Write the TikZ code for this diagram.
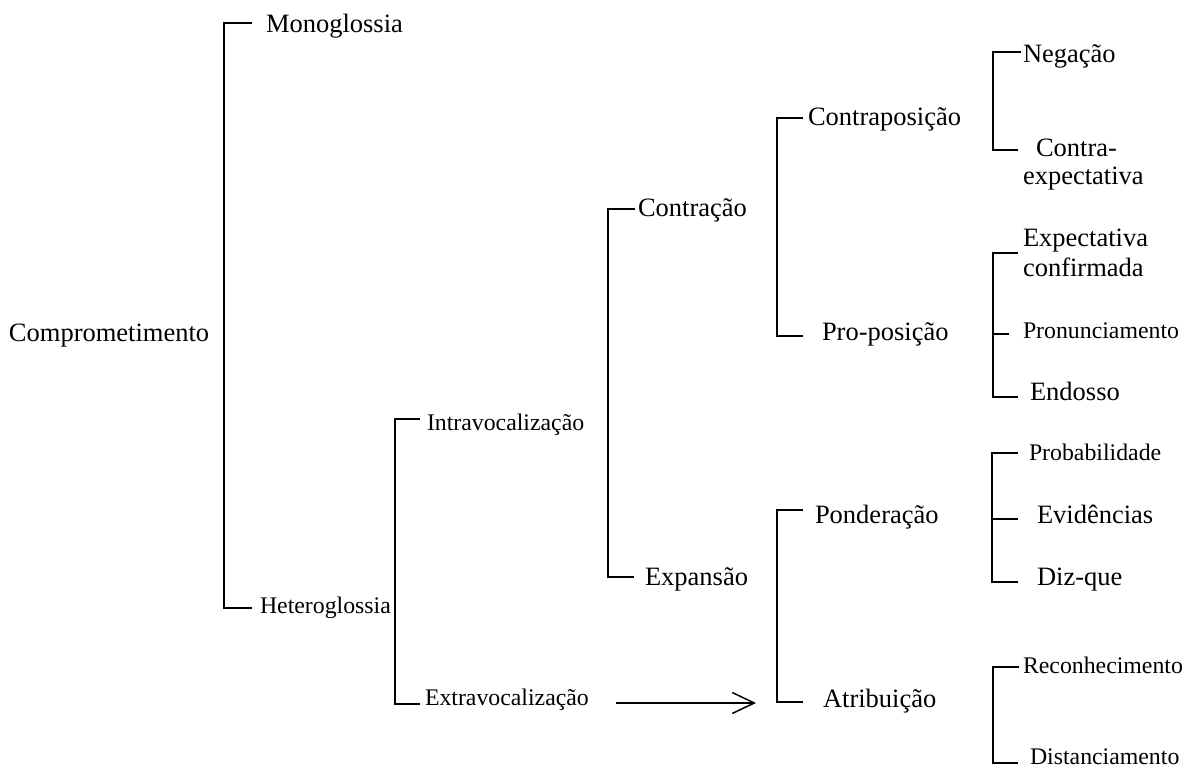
\documentclass[tikz,border=0pt]{standalone}
\usepackage{fontspec}
\setmainfont{Liberation Serif}
\usetikzlibrary{arrows.meta}
\tikzset{
  lbl/.style={inner sep=0pt, outer sep=0pt, anchor=base west},
  big/.style={lbl, font=\fontsize{26.5}{28}\selectfont},
  small/.style={lbl, font=\fontsize{23.8}{28}\selectfont},
  brk/.style={line width=1.8pt, line cap=butt, line join=miter},
  arr/.style={line width=1.5pt, -{Straight Barb[length=22pt,width=21pt,line width=1.5pt]}}
}
\begin{document}
\begin{tikzpicture}[x=1pt,y=-1pt]
\useasboundingbox (0,0) rectangle (1185,767);

% labels
\node[big]   (comp)     at (9,341)    {Comprometimento};
\node[big]   (mono)     at (266,33)   {Monoglossia};
\node[small] (hetero)   at (260,613)  {Heteroglossia};
\node[small] (intra)    at (427,430)  {Intravocalização};
\node[small] (extra)    at (425,705)  {Extravocalização};
\node[big]   (contr)    at (638,217)  {Contração};
\node[big]   (expa)     at (645,585)  {Expansão};
\node[big]   (contrap)  at (808,126)  {Contraposição};
\node[big]   (propos)   at (822,340)  {Pro-posição};
\node[big]   (ponder)   at (815,523)  {Ponderação};
\node[big]   (atrib)    at (823,707)  {Atribuição};
\node[big]   (neg)      at (1023,63)  {Negação};
\node[big]   (cexp)     at (1023,157) {\baselineskip=28pt\vtop{\hbox{\hspace*{13pt}Contra-}\hbox{expectativa}}};
\node[big]   (expc)     at (1023,247) {\baselineskip=30pt\vtop{\hbox{Expectativa}\hbox{confirmada}}};
\node[small] (pron)     at (1023,338) {Pronunciamento};
\node[big]   (endo)     at (1030,400) {Endosso};
\node[small] (prob)     at (1029,460) {Probabilidade};
\node[big]   (evid)     at (1037,523) {Evidências};
\node[big]   (diz)      at (1037,585) {Diz-que};
\node[small] (recon)    at (1023,673) {Reconhecimento};
\node[small] (dist)     at (1030,764) {Distanciamento};

% tick ends
\coordinate (mono-t)    at (252,23);
\coordinate (hetero-t)  at (252,608);
\coordinate (intra-t)   at (420,419);
\coordinate (extra-t)   at (420,704);
\coordinate (contr-t)   at (635,209);
\coordinate (expa-t)    at (634,577);
\coordinate (contrap-t) at (803,118);
\coordinate (propos-t)  at (803,336);
\coordinate (ponder-t)  at (803,510);
\coordinate (atrib-t)   at (803,702);
\coordinate (neg-t)     at (1021,52);
\coordinate (cexp-t)    at (1018,150);
\coordinate (expc-t)    at (1018,253);
\coordinate (pron-t)    at (1009,334);
\coordinate (endo-t)    at (1018,397);
\coordinate (prob-t)    at (1018,453);
\coordinate (evid-t)    at (1018,519);
\coordinate (diz-t)     at (1018,582);
\coordinate (recon-t)   at (1019,667);
\coordinate (dist-t)    at (1018,763);

% brackets
\draw[brk] (mono-t)    -- ++(-28,0) |- (hetero-t);
\draw[brk] (intra-t)   -- ++(-25,0) |- (extra-t);
\draw[brk] (contr-t)   -- ++(-27,0) |- (expa-t);
\draw[brk] (contrap-t) -- ++(-26,0) |- (propos-t);
\draw[brk] (ponder-t)  -- ++(-26,0) |- (atrib-t);
\draw[brk] (neg-t)     -- ++(-28,0) |- (cexp-t);
\draw[brk] (expc-t)    -- ++(-25,0) |- (endo-t);
\draw[brk] (pron-t)    -- ++(-16,0);
\draw[brk] (prob-t)    -- ++(-26,0) |- (diz-t);
\draw[brk] (evid-t)    -- ++(-26,0);
\draw[brk] (recon-t)   -- ++(-26,0) |- (dist-t);

% arrow
\coordinate (arrS) at (616,703);
\coordinate (arrE) at (756,703);
\draw[arr] (arrS) -- (arrE);
\end{tikzpicture}
\end{document}
